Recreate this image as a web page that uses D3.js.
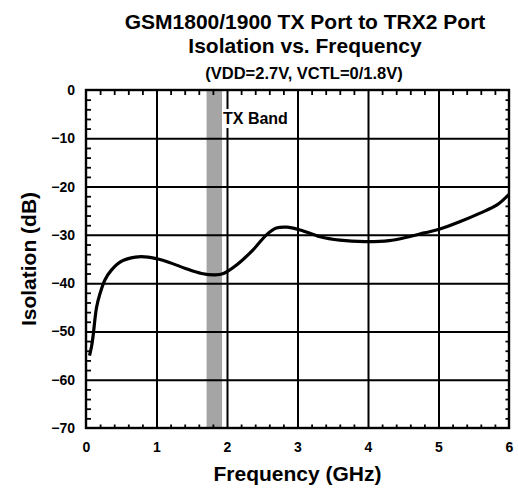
<!DOCTYPE html>
<html>
<head>
<meta charset="utf-8">
<script src="https://cdn.jsdelivr.net/npm/d3@7"></script>
<style>
    body { margin: 0; background: #fff; }
    svg text { font-family: "Liberation Sans", Arial, sans-serif; font-weight: bold; }
</style>
</head>
<body>
<script>
// curve, GHz / dB
const freqGHz = [0.05, 0.08, 0.10, 0.15, 0.20, 0.27, 0.36, 0.50, 0.70, 0.88, 1.10, 1.40, 1.64, 1.83, 1.95,
    2.14, 2.37, 2.56, 2.70, 2.85, 3.04, 3.32, 3.60, 3.95, 4.30, 4.55, 4.80, 5.02, 5.30, 5.59, 5.83, 6.00]
const isolationDb = [-55.0, -53.0, -51.0, -45.0, -42.1, -39.3, -37.3, -35.5, -34.6, -34.6, -35.3, -36.9, -38.0, -38.3, -38.0,
    -36.2, -33.1, -30.0, -28.6, -28.4, -29.0, -30.4, -31.1, -31.4, -31.2, -30.5, -29.6, -28.8, -27.3, -25.5, -23.8, -21.6]

const xTickValues = [0, 1, 2, 3, 4, 5, 6]
const yTickValues = [0, -10, -20, -30, -40, -50, -60, -70]
const txBand = [1.71, 1.93]
const titleLines = ['GSM1800/1900 TX Port to TRX2 Port', 'Isolation vs. Frequency']
const subtitle = '(VDD=2.7V, VCTL=0/1.8V)'

const App = {
    width: 518,
    height: 489,
    margin: {top: 90, right: 9, bottom: 61, left: 86}
}

App.innerW = App.width - App.margin.left - App.margin.right
App.innerH = App.height - App.margin.top - App.margin.bottom

App.svg = d3.select('body').append('svg')
    .attr('width', App.width)
    .attr('height', App.height)

let x = d3.scaleLinear().domain([0, 6]).range([0, App.innerW])
let y = d3.scaleLinear().domain([-70, 0]).range([App.innerH, 0])

// titles
App.svg.append('text')
    .attr('x', 305).attr('y', 29)
    .attr('text-anchor', 'middle')
    .attr('font-size', 21)
    .text(titleLines[0])

App.svg.append('text')
    .attr('x', 305).attr('y', 53)
    .attr('text-anchor', 'middle')
    .attr('font-size', 21)
    .text(titleLines[1])

App.svg.append('text')
    .attr('x', 304).attr('y', 79)
    .attr('text-anchor', 'middle')
    .attr('font-size', 16.5)
    .text(subtitle)

let g = App.svg.append('g')
    .attr('transform', `translate(${App.margin.left},${App.margin.top})`)

// TX band
g.append('rect')
    .attr('x', x(txBand[0]))
    .attr('y', 0)
    .attr('width', x(txBand[1]) - x(txBand[0]))
    .attr('height', App.innerH)
    .attr('fill', '#a5a5a5')

function clean(sel, w) {
    sel.select('.domain').remove()
    sel.selectAll('line').attr('stroke', '#000').attr('stroke-width', w)
}

// grid
g.append('g')
    .attr('transform', `translate(0,${App.innerH})`)
    .call(d3.axisBottom(x).tickValues(xTickValues.slice(1, -1)).tickSize(-App.innerH).tickFormat(''))
    .call(clean, 2)

g.append('g')
    .call(d3.axisLeft(y).tickValues(yTickValues.slice(1, -1)).tickSize(-App.innerW).tickFormat(''))
    .call(clean, 2)

// minor ticks, pointing inward
let xMinor = d3.range(1, 30).map(d => d / 5).filter(d => d % 1 !== 0)
let yMinor = d3.range(-34, 0).map(d => d * 2).filter(d => d % 10 !== 0)

g.append('g')
    .call(d3.axisTop(x).tickValues(xMinor).tickSize(-5).tickFormat(''))
    .call(clean, 1.8)

g.append('g')
    .attr('transform', `translate(0,${App.innerH})`)
    .call(d3.axisBottom(x).tickValues(xMinor).tickSize(-3.5).tickFormat(''))
    .call(clean, 1.8)

g.append('g')
    .call(d3.axisLeft(y).tickValues(yMinor).tickSize(-5).tickFormat(''))
    .call(clean, 1.8)

g.append('g')
    .attr('transform', `translate(${App.innerW},0)`)
    .call(d3.axisRight(y).tickValues(yMinor).tickSize(-3.5).tickFormat(''))
    .call(clean, 1.8)

// TX Band label with white background
let label = g.append('g')
let labelText = label.append('text')
    .attr('x', x(2) - 4)
    .attr('y', 34)
    .attr('font-size', 16)
    .attr('fill', '#000')
    .text('TX Band')
let bb = labelText.node().getBBox()
label.insert('rect', 'text')
    .attr('x', bb.x - 1)
    .attr('y', bb.y - 1)
    .attr('width', bb.width + 3)
    .attr('height', bb.height + 2)
    .attr('fill', '#fff')

// frame
g.append('rect')
    .attr('width', App.innerW)
    .attr('height', App.innerH)
    .attr('fill', 'none')
    .attr('stroke', '#000')
    .attr('stroke-width', 2.4)

// curve
let points = freqGHz.map((f, i) => [f, isolationDb[i]])
let line = d3.line()
    .x(d => x(d[0]))
    .y(d => y(d[1]))
    .curve(d3.curveCatmullRom.alpha(0.5))

g.append('path')
    .datum(points)
    .attr('d', line)
    .attr('fill', 'none')
    .attr('stroke', '#000')
    .attr('stroke-width', 3.2)
    .attr('stroke-linejoin', 'round')

// tick labels
let xAxis = g.append('g')
    .attr('transform', `translate(0,${App.innerH})`)
    .call(d3.axisBottom(x).tickValues(xTickValues).tickFormat(d3.format('d')).tickSize(0).tickPadding(14))
xAxis.select('.domain').remove()
xAxis.attr('font-size', 14).attr('font-family', null)

let yAxis = g.append('g')
    .call(d3.axisLeft(y).tickValues(yTickValues).tickFormat(d3.format('d')).tickSize(0).tickPadding(11))
yAxis.select('.domain').remove()
yAxis.attr('font-size', 14).attr('font-family', null)

// axis titles
App.svg.append('text')
    .attr('x', App.margin.left + App.innerW / 2)
    .attr('y', 481)
    .attr('text-anchor', 'middle')
    .attr('font-size', 21)
    .text('Frequency (GHz)')

App.svg.append('text')
    .attr('transform', `translate(36,${App.margin.top + App.innerH / 2}) rotate(-90)`)
    .attr('text-anchor', 'middle')
    .attr('font-size', 21)
    .text('Isolation (dB)')
</script>
</body>
</html>
